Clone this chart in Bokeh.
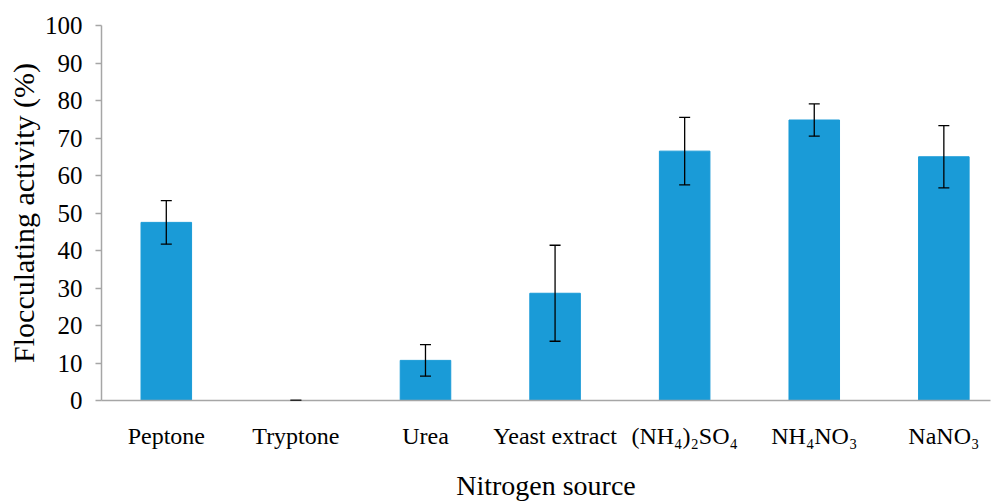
from bokeh.plotting import figure
from bokeh.models import ColumnDataSource, Range1d, FixedTicker, Whisker, TeeHead
from bokeh.embed import file_html
from bokeh.resources import INLINE

categories = ["Peptone", "Tryptone", "Urea", "Yeast extract", "(NH\u2084)\u2082SO\u2084", "NH\u2084NO\u2083", "NaNO\u2083"]
activity = [47.5, 0.0, 10.7, 28.6, 66.5, 74.8, 65.0]
errors = [5.8, 0.0, 4.2, 12.8, 9.0, 4.3, 8.3]
y_ticks = [0, 10, 20, 30, 40, 50, 60, 70, 80, 90, 100]

xs = list(range(len(categories)))
src = ColumnDataSource(dict(
    x=xs, top=activity,
    upper=[a + e for a, e in zip(activity, errors)],
    lower=[a - e for a, e in zip(activity, errors)],
))

FONT = "Liberation Serif"

p = figure(width=995, height=502, frame_width=889, frame_height=375,
           min_border_left=101, min_border_top=25, min_border_right=5, min_border_bottom=102,
           x_range=Range1d(-0.5, 6.36), y_range=Range1d(0, 100),
           output_backend="svg", toolbar_location=None)

p.vbar(x="x", top="top", width=0.39, source=src, fill_color="#1a9bd7", line_color="#1a9bd7")
p.add_layout(Whisker(base="x", upper="upper", lower="lower", source=src, level="overlay",
                     line_color="black", line_width=1.3,
                     upper_head=TeeHead(size=11, line_color="black", line_width=1.3),
                     lower_head=TeeHead(size=11, line_color="black", line_width=1.3)))

p.xgrid.visible = False
p.ygrid.visible = False
p.outline_line_color = None

ax = p.yaxis[0]
ax.ticker = FixedTicker(ticks=y_ticks)
ax.axis_line_color = "#a6a6a6"
ax.axis_line_width = 1.5
ax.major_tick_line_color = "#a6a6a6"
ax.major_tick_line_width = 1.5
ax.major_tick_out = 6
ax.major_tick_in = 0
ax.minor_tick_line_color = None
ax.major_label_text_font = FONT
ax.major_label_text_font_size = "25px"
ax.major_label_text_color = "black"
ax.major_label_standoff = 13
ax.axis_label = "Flocculating activity (%)"
ax.axis_label_text_font = FONT
ax.axis_label_text_font_size = "30px"
ax.axis_label_text_font_style = "normal"
ax.axis_label_text_color = "black"
ax.axis_label_standoff = 2

bx = p.xaxis[0]
bx.ticker = FixedTicker(ticks=xs)
bx.major_label_overrides = {i: c for i, c in zip(xs, categories)}
bx.axis_line_color = "#a6a6a6"
bx.axis_line_width = 1.5
bx.major_tick_line_color = None
bx.minor_tick_line_color = None
bx.major_tick_out = 0
bx.major_tick_in = 0
bx.major_label_text_font = FONT
bx.major_label_text_font_size = "24px"
bx.major_label_text_color = "black"
bx.major_label_standoff = 22
bx.axis_label = "Nitrogen source"
bx.axis_label_text_font = FONT
bx.axis_label_text_font_size = "28px"
bx.axis_label_text_font_style = "normal"
bx.axis_label_text_color = "black"
bx.axis_label_standoff = 18

open("out.html", "w").write(file_html(p, INLINE))
